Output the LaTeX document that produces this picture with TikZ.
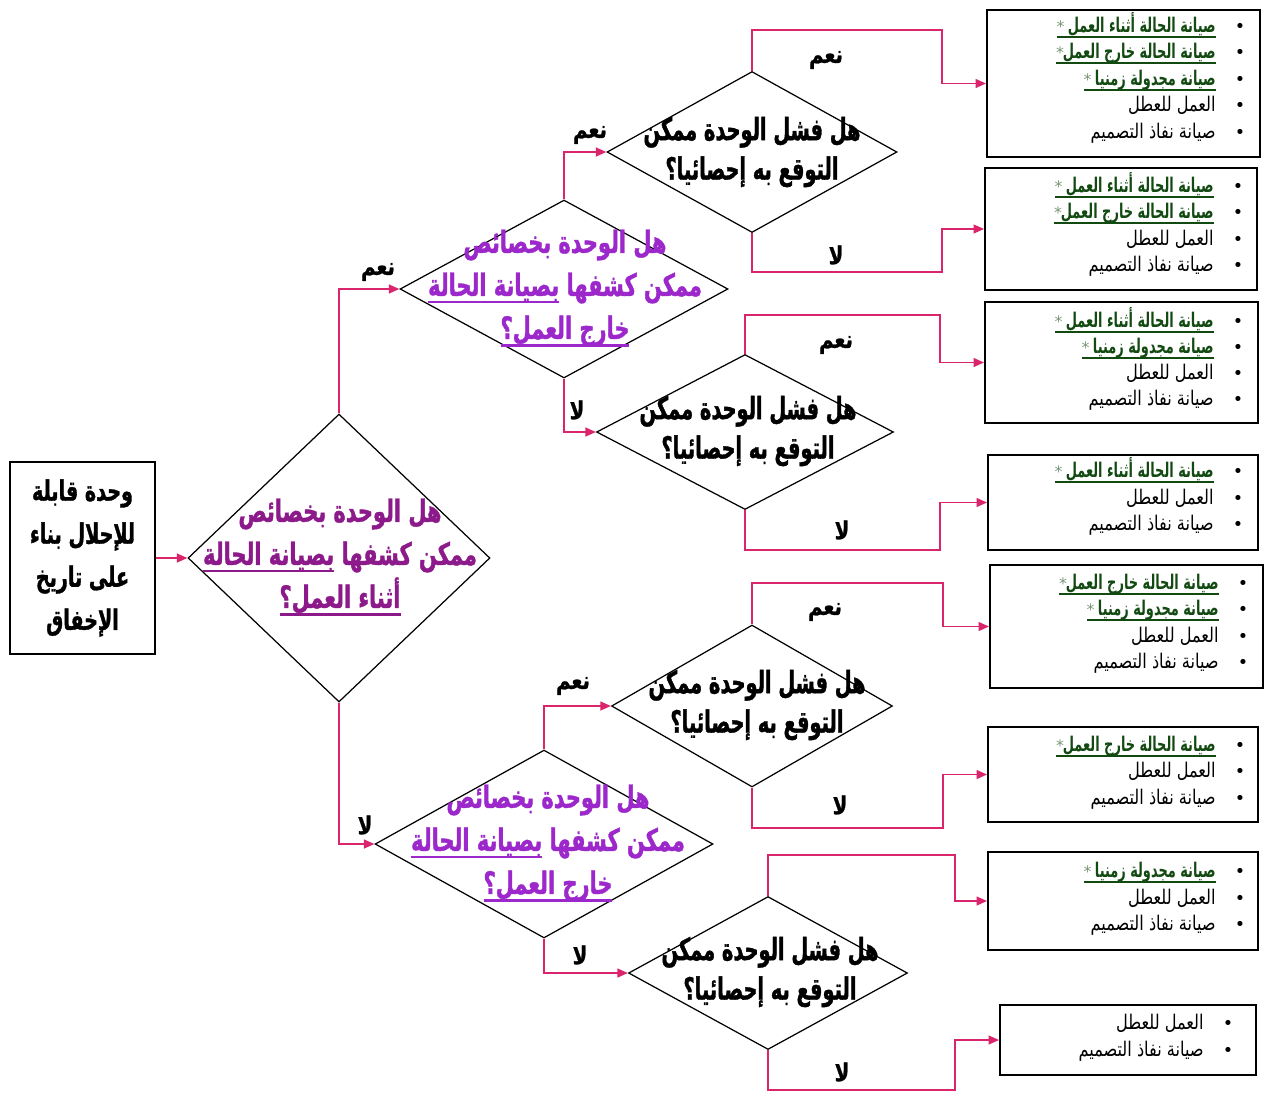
\documentclass[tikz,border=0pt]{standalone}
\usepackage{fontspec}
\usetikzlibrary{shapes.geometric,arrows.meta}
\TeXXeTstate=1
\newfontfamily\arf[Script=Arabic]{DejaVu Sans}
\newfontfamily\arfq[Script=Arabic,FakeStretch=0.68,BoldFeatures={FakeBold=1.2}]{DejaVu Sans}
\newfontfamily\arfs[Script=Arabic,FakeStretch=0.63,BoldFeatures={FakeBold=1.2}]{DejaVu Sans}
\newfontfamily\arfl[Script=Arabic,FakeStretch=0.80,BoldFeatures={FakeBold=1}]{DejaVu Sans}
\newfontfamily\arfi[Script=Arabic,FakeStretch=0.80]{DejaVu Sans}
\newfontfamily\arfg[Script=Arabic,FakeStretch=0.64]{DejaVu Sans}

\definecolor{linkpink}{RGB}{218,36,108}
\definecolor{qpurple}{RGB}{140,26,138}
\definecolor{qviolet}{RGB}{156,40,204}
\definecolor{itemgreen}{RGB}{18,74,18}
\definecolor{stargray}{RGB}{120,150,120}

% right-to-left helpers
\newcommand\rtl[1]{\beginR#1\endR}
\newsavebox\ulbox
% underlined right-to-left run: rule drawn under the whole run
\newcommand\ulrule[3]{\setbox\ulbox=\hbox{\beginR#3\endR}%
  \hbox{\rlap{\vrule height -#1 depth #2 width \wd\ulbox}\box\ulbox}}
\newcommand\ulr[1]{\ulrule{3pt}{4.3pt}{#1}}
\newcommand\uli[1]{\ulrule{2.3pt}{3.3pt}{#1}}

% one bulleted line: green underlined entry, or plain entry
\newcommand\gline[4]{%
  \node[bulnode] (#1-b) at (#2,#3) {•};
  \node[gtext] (#1) at (#2-24,#3) {\uli{#4\hphantom{*}}};
  \node[astnode] (#1-s) at (#1.base west) {*};}
\newcommand\pline[4]{%
  \node[bulnode] (#1-b) at (#2,#3) {•};
  \node[ptext] (#1) at (#2-24,#3) {\rtl{#4}};}
\newcommand\gA[3]{\gline{#1}{#2}{#3}{صيانة الحالة أثناء العمل }}
\newcommand\gB[3]{\gline{#1}{#2}{#3}{صيانة الحالة خارج العمل}}
\newcommand\gC[3]{\gline{#1}{#2}{#3}{صيانة مجدولة زمنيا }}
\newcommand\pD[3]{\pline{#1}{#2}{#3}{العمل للعطل}}
\newcommand\pE[3]{\pline{#1}{#2}{#3}{صيانة نفاذ التصميم}}

% question texts
\newcommand\qOn{\rtl{هل الوحدة بخصائص}\\ \rtl{ممكن كشفها \ulr{بصيانة الحالة}}\\ \ulr{أثناء العمل؟}}
\newcommand\qOff{\rtl{هل الوحدة بخصائص}\\ \rtl{ممكن كشفها \ulr{بصيانة الحالة}}\\ \ulr{خارج العمل؟}}
\newcommand\qStat{\rtl{هل فشل الوحدة ممكن}\\ \rtl{التوقع به إحصائيا؟}}

\begin{document}
\begin{tikzpicture}[x=0.02cm,y=-0.02cm,
  dia/.style={draw=black, line width=0.7pt, shape=diamond, inner sep=0pt},
  qtext/.style={font=\arfq\bfseries\fontsize{17.5}{24.5}\selectfont, align=center, inner sep=0pt},
  stext/.style={font=\arfs\bfseries\fontsize{17.5}{22.5}\selectfont, align=center, inner sep=0pt},
  startbox/.style={draw=black, line width=1.1pt, minimum width=2.9cm, minimum height=3.84cm,
    inner sep=1pt, font=\arfq\bfseries\fontsize{16}{24.5}\selectfont, align=center},
  listbox/.style={draw=black, line width=1.1pt, inner sep=0pt},
  bulnode/.style={anchor=base, inner sep=0pt, font=\arf\fontsize{10}{12}\selectfont},
  gtext/.style={anchor=base east, inner sep=0pt, text=itemgreen, font=\arfg\bfseries\fontsize{11.5}{13}\selectfont},
  ptext/.style={anchor=base east, inner sep=0pt, font=\arfi\fontsize{11.5}{13}\selectfont},
  astnode/.style={anchor=base west, inner sep=0pt, text=stargray, font=\arf\fontsize{9}{12}\selectfont},
  conn/.style={draw=linkpink, line width=1.1pt},
  arr/.style={conn, -{Triangle[length=6pt,width=5pt]}},
  lbl/.style={font=\arfl\bfseries\fontsize{14}{16}\selectfont, inner sep=0pt}]

\useasboundingbox (0,0) rectangle (1266,1093);
\fill[white] (0,0) rectangle (1266,1093);

% start box
\node[startbox] (s) at (82.5,558) {\rtl{وحدة قابلة}\\ \rtl{للإحلال بناء}\\ \rtl{على تاريخ}\\ \rtl{الإخفاق}};

% decision diamonds
\node[dia, minimum width=6.04cm, minimum height=5.76cm] (d1) at (339,558) {};
\node[dia, minimum width=6.56cm, minimum height=3.56cm] (d2) at (564,289) {};
\node[dia, minimum width=6.76cm, minimum height=3.76cm] (d3) at (544,844) {};
\node[dia, minimum width=5.80cm, minimum height=3.22cm] (d4) at (752,152) {};
\node[dia, minimum width=5.94cm, minimum height=3.10cm] (d5) at (745,432) {};
\node[dia, minimum width=5.62cm, minimum height=3.24cm] (d6) at (752,706) {};
\node[dia, minimum width=5.58cm, minimum height=3.06cm] (d7) at (768,973) {};

\node[qtext, text=qpurple] (t1) at (340,557) {\qOn};
\node[qtext, text=qviolet] (t2) at (565,288) {\qOff};
\node[qtext, text=qviolet] (t3) at (548,843) {\qOff};
\node[stext] (t4) at (752,152) {\qStat};
\node[stext] (t5) at (748,431) {\qStat};
\node[stext] (t6) at (757,705) {\qStat};
\node[stext] (t7) at (770,972) {\qStat};

% result boxes
\node[listbox, minimum width=5.46cm, minimum height=2.94cm] (b1) at (1123.5,83.5) {};
\node[listbox, minimum width=5.44cm, minimum height=2.44cm] (b2) at (1121,229) {};
\node[listbox, minimum width=5.46cm, minimum height=2.42cm] (b3) at (1121.5,362.5) {};
\node[listbox, minimum width=5.40cm, minimum height=1.90cm] (b4) at (1123,502.5) {};
\node[listbox, minimum width=5.46cm, minimum height=2.46cm] (b5) at (1126.5,626.5) {};
\node[listbox, minimum width=5.40cm, minimum height=1.90cm] (b6) at (1123,774.5) {};
\node[listbox, minimum width=5.40cm, minimum height=1.96cm] (b7) at (1123,901) {};
\node[listbox, minimum width=5.12cm, minimum height=1.40cm] (b8) at (1128,1040) {};

% box contents
\gA{b1a}{1240}{32} \gB{b1b}{1240}{58} \gC{b1c}{1240}{85} \pD{b1d}{1240}{111} \pE{b1e}{1240}{138}
\gA{b2a}{1238}{192} \gB{b2b}{1238}{218} \pD{b2d}{1238}{245} \pE{b2e}{1238}{271}
\gA{b3a}{1238}{327} \gC{b3c}{1238}{353} \pD{b3d}{1238}{379} \pE{b3e}{1238}{405}
\gA{b4a}{1238}{477} \pD{b4d}{1238}{504} \pE{b4e}{1238}{530}
\gB{b5b}{1243}{589} \gC{b5c}{1243}{615} \pD{b5d}{1243}{642} \pE{b5e}{1243}{668}
\gB{b6b}{1240}{751} \pD{b6d}{1240}{777} \pE{b6e}{1240}{804}
\gC{b7c}{1240}{877} \pD{b7d}{1240}{904} \pE{b7e}{1240}{930}
\pD{b8d}{1228}{1029} \pE{b8e}{1228}{1056}

% bend points of the outer connectors
\coordinate (k4a) at (942,30);   \coordinate (k4b) at (942,272);
\coordinate (k5a) at (940,315);  \coordinate (k5b) at (940,550);
\coordinate (k6a) at (943,583);  \coordinate (k6b) at (943,828);
\coordinate (k7a) at (955,855);  \coordinate (k7b) at (955,1090);

% connectors
\draw[arr] (s.east) -- (d1.west);
\draw[arr] (d1.north) |- (d2.west);
\draw[arr] (d1.south) |- (d3.west);
\draw[arr] (d2.north) |- (d4.west);
\draw[arr] (d2.south) |- (d5.west);
\draw[arr] (d3.north) |- (d6.west);
\draw[arr] (d3.south) |- (d7.west);

\draw[arr] (d4.north) |- (k4a) |- (b1.west);
\draw[arr] (d4.south) |- (k4b) |- (b2.west);
\draw[arr] (d5.north) |- (k5a) |- (b3.west);
\draw[arr] (d5.south) |- (k5b) |- (b4.west);
\draw[arr] (d6.north) |- (k6a) |- (b5.west);
\draw[arr] (d6.south) |- (k6b) |- (b6.west);
\draw[arr] (d7.north) |- (k7a) |- (b7.west);
\draw[arr] (d7.south) |- (k7b) |- (b8.west);

% branch labels
\node[lbl] (y1) at (378,272) {\rtl{نعم}};
\node[lbl] (n1) at (365,825) {\rtl{لا}};
\node[lbl] (y2) at (590,135) {\rtl{نعم}};
\node[lbl] (n2) at (577,410) {\rtl{لا}};
\node[lbl] (y3) at (573,686) {\rtl{نعم}};
\node[lbl] (n3) at (580,955) {\rtl{لا}};
\node[lbl] (y4) at (826,60) {\rtl{نعم}};
\node[lbl] (n4) at (836,255) {\rtl{لا}};
\node[lbl] (y5) at (836,345) {\rtl{نعم}};
\node[lbl] (n5) at (842,530) {\rtl{لا}};
\node[lbl] (y6) at (825,612) {\rtl{نعم}};
\node[lbl] (n6) at (840,805) {\rtl{لا}};
\node[lbl] (n7) at (842,1072) {\rtl{لا}};
\end{tikzpicture}
\end{document}
